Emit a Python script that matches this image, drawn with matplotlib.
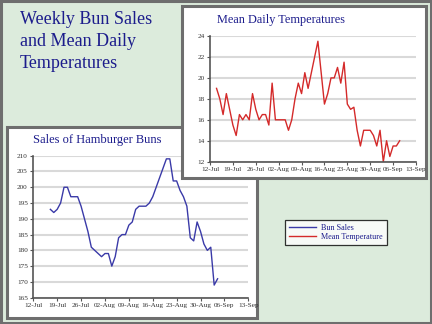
import matplotlib
matplotlib.use("Agg")
import matplotlib.pyplot as plt
import matplotlib.dates as mdates
from matplotlib.patches import Rectangle
from matplotlib.lines import Line2D
import pandas as pd

# ---------------- data ----------------
bun_start = "2004-07-17"
bun_sales = [193, 192, 193, 195, 200, 200, 197, 197, 197, 194,
             190, 186, 181, 180, 179, 178, 179, 179, 175, 178,
             184, 185, 185, 188, 189, 193, 194, 194, 194, 195,
             197, 200, 203, 206, 209, 209, 202, 202, 199, 197,
             194, 184, 183, 189, 186, 182, 180, 181, 169, 171]

temp_start = "2004-07-14"
mean_temp = [19, 18, 16.5, 18.5, 17, 15.5, 14.5, 16.5, 16, 16.5,
             16, 18.5, 17, 16, 16.5, 16.5, 15.5, 19.5, 16, 16,
             16, 16, 15, 16, 18, 19.5, 18.5, 20.5, 19, 20.5,
             22, 23.5, 20.5, 17.5, 18.5, 20, 20, 21, 19.5, 21.5,
             17.5, 17, 17.2, 15, 13.5, 15, 15, 15, 14.5, 13.5,
             15, 12, 14, 12.5, 13.5, 13.5, 14]

x_start, x_end = "2004-07-12", "2004-09-13"
bun_yticks = [165, 170, 175, 180, 185, 190, 195, 200, 205, 210]
temp_yticks = [12, 14, 16, 18, 20, 22, 24]

main_title = "Weekly Bun Sales\nand Mean Daily\nTemperatures"
bun_title = "Sales of Hamburger Buns"
temp_title = "Mean Daily Temperatures"
legend_labels = ["Bun Sales", "Mean Temperature"]

# ---------------- style ----------------
W, H = 432, 324
SERIF = ["Liberation Serif", "DejaVu Serif"]
NAVY = "#1c1c8c"
BLUE = "#3a3aa8"
RED = "#d42a2a"
BG = "#dcebdc"
BORDER = "#6e6e6e"

def fx(px):
    return px / W

def fy(py):
    return 1 - py / H

fig = plt.figure(figsize=(W / 100, H / 100), dpi=100)
fig.patch.set_facecolor(BG)

# outer border
fig.patches.append(Rectangle((0.002, 0.003), 0.995, 0.994, transform=fig.transFigure,
                             facecolor="none", edgecolor=BORDER, lw=2.2, zorder=0))

def panel(x0, y0, x1, y1, z):
    r = Rectangle((fx(x0), fy(y1)), fx(x1) - fx(x0), fy(y0) - fy(y1),
                  transform=fig.transFigure, facecolor="white",
                  edgecolor=BORDER, lw=2.2, zorder=z)
    fig.patches.append(r)

def style_axes(ax, yticks):
    ax.set_facecolor("white")
    ax.set_xlim(pd.Timestamp(x_start), pd.Timestamp(x_end))
    ax.set_ylim(yticks[0], yticks[-1])
    ax.set_yticks(yticks)
    ax.set_xticks(pd.date_range(x_start, x_end, freq="7D"))
    ax.xaxis.set_major_formatter(mdates.DateFormatter("%d-%b"))
    for s in ("top", "right"):
        ax.spines[s].set_visible(False)
    for s in ("left", "bottom"):
        ax.spines[s].set_color("#555555")
        ax.spines[s].set_linewidth(1.2)
    ax.grid(axis="y", color="#d9d9d9", lw=1.5)
    ax.set_axisbelow(True)
    ax.tick_params(direction="out", length=2.5, width=0.8, labelsize=5.2,
                   colors="#555555", labelcolor="#333333", pad=1.5)
    for lab in ax.get_xticklabels() + ax.get_yticklabels():
        lab.set_family(SERIF)

# ---- bun panel (below) ----
panel(7, 127, 257, 318, 1)
ax1 = fig.add_axes([fx(33.3), fy(297.7), fx(248.3) - fx(33.3), fy(155.7) - fy(297.7)], zorder=2)
bun_dates = pd.date_range(bun_start, periods=len(bun_sales), freq="D")
ax1.plot(bun_dates, bun_sales, color=BLUE, lw=1.0)
style_axes(ax1, bun_yticks)
fig.text(fx(33), fy(140), bun_title, family=SERIF, fontsize=9, color=NAVY,
         va="center", ha="left", zorder=2.5)

# ---- temperature panel (on top) ----
panel(182, 6, 426, 178, 3)
ax2 = fig.add_axes([fx(210), fy(161.7), fx(416) - fx(210), fy(36) - fy(161.7)], zorder=4)
temp_dates = pd.date_range(temp_start, periods=len(mean_temp), freq="D")
ax2.plot(temp_dates, mean_temp, color=RED, lw=1.0)
style_axes(ax2, temp_yticks)
fig.text(fx(217), fy(20), temp_title, family=SERIF, fontsize=8.8, color=NAVY,
         va="center", ha="left", zorder=4.5)

# ---- main title ----
fig.text(fx(20), fy(11), main_title, family=SERIF, fontsize=13, color=NAVY,
         va="top", ha="left", linespacing=1.4, zorder=0.5)

# ---- legend ----
h1 = Line2D([], [], color=BLUE, lw=1.0)
h2 = Line2D([], [], color=RED, lw=1.0)
leg = fig.legend([h1, h2], legend_labels, loc="upper left",
                 bbox_to_anchor=(fx(285), fy(220)), frameon=True, fancybox=False,
                 prop={"family": SERIF, "size": 5.9}, labelcolor=NAVY,
                 handlelength=3.3, handletextpad=0.7, borderpad=0.45,
                 labelspacing=0.15, borderaxespad=0)
leg.get_frame().set_edgecolor("black")
leg.get_frame().set_linewidth(0.9)
leg.set_zorder(6)

fig.savefig("out.png", dpi=100, facecolor=BG)
